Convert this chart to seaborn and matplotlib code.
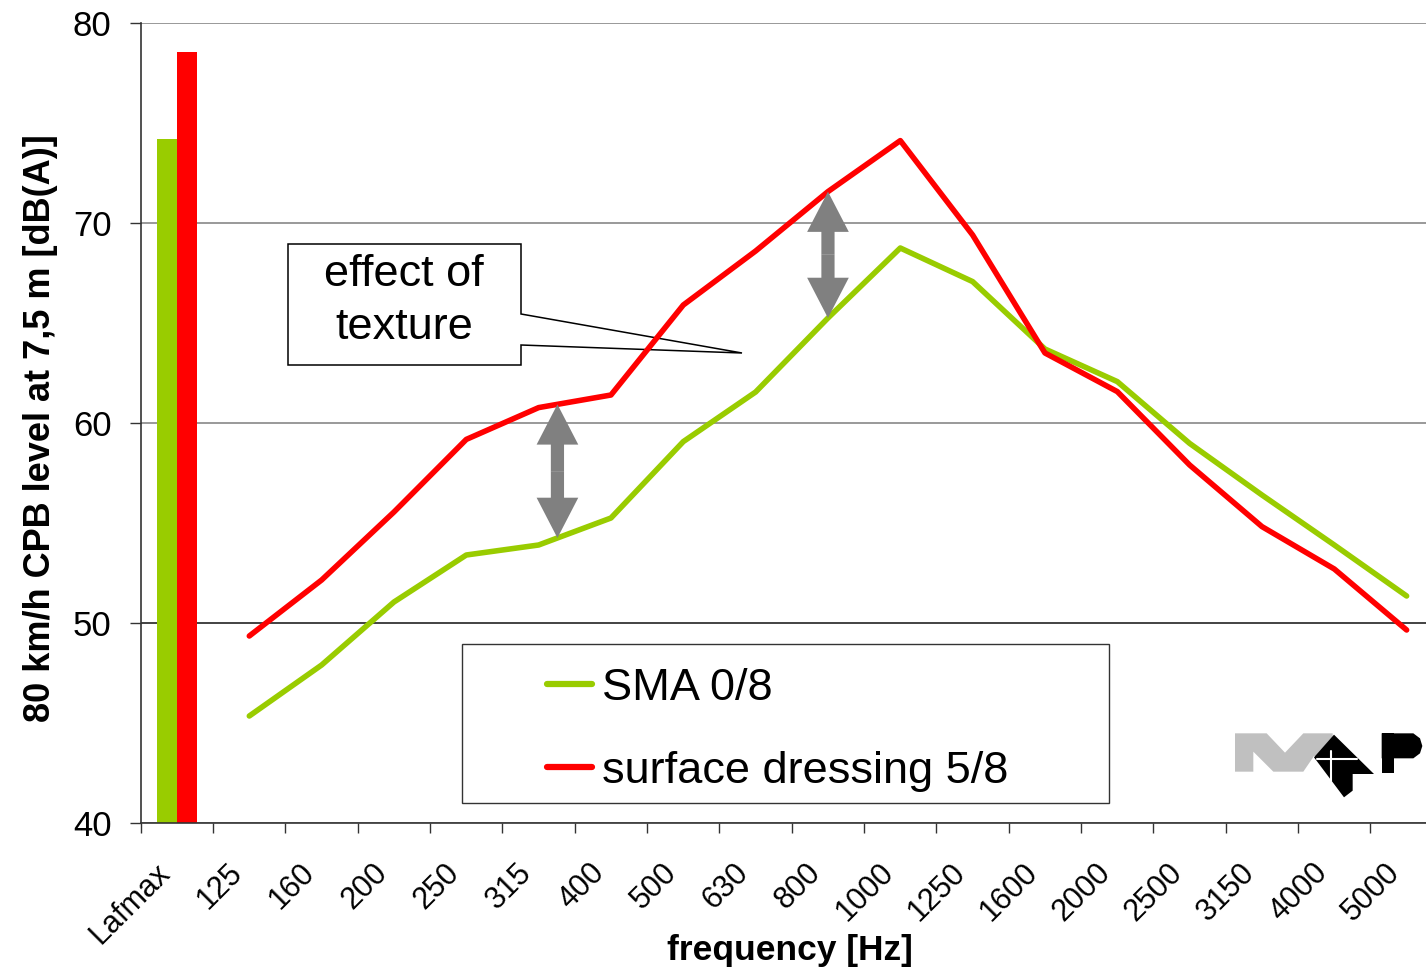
import numpy as np
import pandas as pd
import matplotlib
matplotlib.use("Agg")
import matplotlib.pyplot as plt
import matplotlib.transforms as mtransforms
from matplotlib.lines import Line2D
from matplotlib.patches import Polygon, Rectangle
import seaborn as sns

# --- data ---
categories = ["Lafmax", "125", "160", "200", "250", "315", "400", "500", "630",
              "800", "1000", "1250", "1600", "2000", "2500", "3150", "4000", "5000"]
freqs = categories[1:]
series = ["SMA 0/8", "surface dressing 5/8"]
colors = ["#99CC00", "#FF0000"]
lafmax = [74.2, 78.55]
sma = [45.35, 47.9, 51.05, 53.4, 53.9, 55.25, 59.07, 61.55, 65.25, 68.75,
       67.07, 63.7, 62.07, 58.98, 56.4, 53.9, 51.35]
dressing = [49.35, 52.15, 55.55, 59.18, 60.77, 61.4, 65.9, 68.6, 71.57, 74.12,
            69.4, 63.5, 61.57, 57.9, 54.82, 52.7, 49.65]
arrow_at = [5.26, 9.0]  # category positions of the two "texture" arrows

sns.set_style("white")
plt.rcParams["font.family"] = ["Liberation Sans", "DejaVu Sans"]
for key in ["text.color", "axes.labelcolor", "xtick.color", "ytick.color"]:
    plt.rcParams[key] = "black"

W, H = 1426, 973
fig = plt.figure(figsize=(W / 100, H / 100), dpi=100)
ax_left, ax_bottom, ax_w, ax_h = 140.8, 823, 1302, 800
ax = fig.add_axes([ax_left / W, 1 - ax_bottom / H, ax_w / W, ax_h / H])


def px(x, y):
    # pixel position in the picture -> axes fraction
    return ((x - ax_left) / ax_w, (ax_bottom - y) / ax_h)


# 1. Lafmax bars
pos = {c: i for i, c in enumerate(categories)}
bar_df = pd.DataFrame({"pos": pos["Lafmax"], "surface": series, "level": lafmax})
sns.barplot(data=bar_df, x="pos", y="level", hue="surface", hue_order=series,
            palette=colors, native_scale=True, width=0.56, saturation=1,
            edgecolor="none", legend=False, ax=ax)

# 2. third-octave band spectra
xs = [pos[f] for f in freqs]
for vals, col in zip([sma, dressing], colors):
    sns.lineplot(x=xs, y=vals, color=col, lw=4.0, ax=ax)

# 3. double arrows showing the texture effect
for xa in arrow_at:
    lo = np.interp(xa, xs, sma)
    hi = np.interp(xa, xs, dressing)
    mid = (lo + hi) / 2
    for end in (lo, hi):
        ax.annotate("", xy=(xa, end), xytext=(xa, mid),
                    arrowprops=dict(arrowstyle="simple,head_length=29,head_width=30,tail_width=9.5",
                                    mutation_scale=1, color="#808080", lw=0,
                                    shrinkA=0, shrinkB=0), zorder=4)

# 4. axes styling
ax.set_xlim(-0.5, len(categories) - 0.5)
ax.set_ylim(40, 80)
ax.set_yticks([40, 50, 60, 70, 80])
ax.set_yticklabels([str(v) for v in [40, 50, 60, 70, 80]], fontsize=25)
ax.tick_params(axis="y", left=True, length=8, width=1, color="#333333", pad=13)

ax.set_xticks(range(len(categories)))
ax.set_xticklabels(categories, rotation=45, ha="right", va="top",
                   rotation_mode="anchor", fontsize=22)
ax.set_xticks(np.arange(len(categories) + 1) - 0.5, minor=True)
ax.tick_params(axis="x", which="major", bottom=True, length=0, pad=25)
ax.tick_params(axis="x", which="minor", bottom=True, length=7, width=1, color="#333333")
shift = mtransforms.ScaledTranslation(-22 / 100, 0, fig.dpi_scale_trans)
for lbl in ax.get_xticklabels():
    lbl.set_transform(lbl.get_transform() + shift)

ax.yaxis.grid(True, color="#888888", lw=1.2)
ax.xaxis.grid(False)
for tick in ax.yaxis.get_major_ticks():
    if tick.get_loc() == 50:
        tick.gridline.set_color("#222222")
ax.set_axisbelow(True)
for side in ["top", "right"]:
    ax.spines[side].set_visible(False)
for side in ["left", "bottom"]:
    ax.spines[side].set_color("#333333")
    ax.spines[side].set_linewidth(1.2)

ax.set_xlabel("frequency [Hz]", fontsize=25.5, fontweight="bold")
ax.xaxis.set_label_coords(0.4986, -0.139)
ax.set_ylabel("80 km/h CPB level at 7,5 m [dB(A)]", fontsize=26, fontweight="bold")
ax.yaxis.set_label_coords(-0.0636, 0.494)

# 5. callout
callout = [px(288, 244), px(521, 244), px(521, 314), px(742, 353),
           px(521, 345), px(521, 365), px(288, 365)]
ax.add_patch(Polygon(callout, closed=True, transform=ax.transAxes, facecolor="white",
                     edgecolor="black", lw=1.1, zorder=1.5))
ax.text(*px(404, 301), "effect of\ntexture", transform=ax.transAxes, ha="center",
        va="center", fontsize=32.5, linespacing=1.4, zorder=1.6)

# 6. legend
x0, y0 = px(462, 803)
x1, y1 = px(1109, 644)
ax.add_patch(Rectangle((x0, y0), x1 - x0, y1 - y0, transform=ax.transAxes,
                       facecolor="white", edgecolor="#333333", lw=1, zorder=3))
handles = [Line2D([], [], color=c, lw=4.5) for c in colors]
leg = ax.legend(handles, series, loc="upper left", bbox_to_anchor=px(546.7, 668),
                frameon=False, fontsize=32.5, handlelength=1.0, handletextpad=0.22,
                labelspacing=0.92, borderpad=0, borderaxespad=0)
leg.set_zorder(4)

# 7. logo (drawn in zoom pixel units)
lax = fig.add_axes([1220 / W, 1 - 810 / H, 206 / W, 90 / H])
lax.set_xlim(0, 618)
lax.set_ylim(270, 0)
lax.axis("off")
gray = [(45, 40), (140, 40), (195, 98), (250, 40), (338, 40), (338, 108), (282, 108),
        (250, 155), (160, 155), (100, 95), (100, 155), (45, 155)]
black = [(342, 44), (462, 162), (398, 162), (398, 212), (372, 232), (282, 112)]
bowl = [(485, 40), (580, 40), (600, 55), (607, 78), (600, 100), (580, 115), (485, 115)]
lax.add_patch(Polygon(gray, closed=True, color="#C0C0C0", lw=0))
lax.add_patch(Polygon(black, closed=True, color="black", lw=0))
lax.add_patch(Rectangle((485, 40), 37, 120, color="black", lw=0))
lax.add_patch(Polygon(bowl, closed=True, color="black", lw=0))
lax.plot([332, 332], [92, 182], color="white", lw=1.5)
lax.plot([290, 410], [118, 118], color="white", lw=1.5)

fig.savefig("out.png", dpi=100)
